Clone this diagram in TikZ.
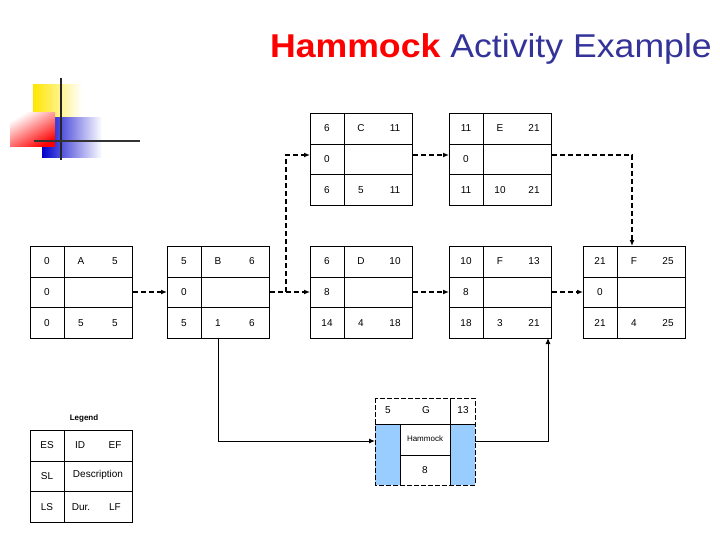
\documentclass[tikz,border=0pt]{standalone}
\usepackage{fontspec}
\setmainfont{Liberation Sans}
\usetikzlibrary{arrows.meta,calc}
\definecolor{navy}{RGB}{51,51,153}
\definecolor{hblue}{RGB}{153,204,255}
\tikzset{
  box/.style={draw,line width=0.8pt,minimum width=102pt,minimum height=92pt,inner sep=0pt,anchor=north west},
  t/.style={font=\fontsize{10}{10}\selectfont},
  dep/.style={dash pattern=on 5pt off 3pt,line width=1.2pt,-{Latex[length=6pt,width=5pt]}},
  ham/.style={line width=1pt,-{Latex[length=6pt,width=5pt]}}
}
\newcommand{\actbox}[3]{%
  \node[box] (#1) at (#2,#3) {};
  \draw[line width=0.8pt] ($(#1.north west)+(34,0)$) -- ($(#1.south west)+(34,0)$)
    ($(#1.north west)+(0,31)$) -- ($(#1.north east)+(0,31)$)
    ($(#1.north west)+(0,61)$) -- ($(#1.north east)+(0,61)$);
}
\newcommand{\lbl}[4]{\node[t] at ($(#1.north west)+(#2,#3)$) {#4};}
\newcommand{\rowtxt}[8]{%
 \lbl{#1}{17}{15}{#2}\lbl{#1}{51}{15}{#3}\lbl{#1}{85}{15}{#4}
 \lbl{#1}{17}{46}{#5}
 \lbl{#1}{17}{77}{#6}\lbl{#1}{51}{77}{#7}\lbl{#1}{85}{77}{#8}}
\begin{document}
\begin{tikzpicture}[x=1pt,y=-1pt]
\useasboundingbox (0,0) rectangle (720,540);
% title
\node[anchor=base east,font=\fontsize{33}{33}\selectfont,inner sep=0pt,xscale=1.08] (title) at (712,58)
 {\textcolor{red}{\textbf{Hammock}} \textcolor{navy}{Activity Example}};
% logo
\shade[left color=yellow!80!orange,right color=white] (33,85) rectangle (82,118);
\shade[left color=blue!80!black,right color=white] (42,118) rectangle (102,158);
\shade[left color=white,right color=red,shading angle=30] (10,113) rectangle (55,147);
\draw[line width=1.5pt,black!85] (61,78) -- (61,160);
\draw[line width=1.5pt,black!80] (34,141) -- (140,141);
% boxes
\actbox{A}{30}{246}\rowtxt{A}{0}{A}{5}{0}{0}{5}{5}
\actbox{B}{167}{246}\rowtxt{B}{5}{B}{6}{0}{5}{1}{6}
\actbox{D}{310}{246}\rowtxt{D}{6}{D}{10}{8}{14}{4}{18}
\actbox{F}{449}{246}\rowtxt{F}{10}{F}{13}{8}{18}{3}{21}
\actbox{G}{583}{246}\rowtxt{G}{21}{F}{25}{0}{21}{4}{25}
\actbox{C}{310}{113}\rowtxt{C}{6}{C}{11}{0}{6}{5}{11}
\actbox{E}{449}{113}\rowtxt{E}{11}{E}{21}{0}{11}{10}{21}
% legend
\node[font=\fontsize{8}{8}\selectfont\bfseries] (leg) at (84,418) {Legend};
\actbox{L}{30}{430}
\lbl{L}{17}{15}{ES}\lbl{L}{50}{15}{ID}\lbl{L}{85}{15}{EF}
\lbl{L}{17}{46}{SL}\lbl{L}{68}{45}{Description}
\lbl{L}{17}{77}{LS}\lbl{L}{51}{77}{Dur.}\lbl{L}{85}{77}{LF}
% hammock
\fill[hblue] (375,424) rectangle (400,485) (450,424) rectangle (475,485);
\node[minimum width=100pt,minimum height=87pt,inner sep=0pt,anchor=north west] (H) at (375,398) {};
\draw[line width=0.8pt] (375,424) -- (475,424) (450,398) -- (450,485) (400,424) -- (400,485) (400,455) -- (450,455);
\draw[dash pattern=on 5pt off 2pt,line width=1pt] (375,398) rectangle (475,485);
\node[t] at (388,410) {5}; \node[t] at (426,410) {G}; \node[t] at (463,410) {13};
\node[font=\fontsize{8}{8}\selectfont] at (425,439) {Hammock}; \node[t] at (425,470) {8};
% dependencies
\draw[dep] (A.east |- 0,292) -- (B.west |- 0,292);
\draw[dep] (B.east |- 0,292) -- (D.west |- 0,292);
\draw[dep] (286,292) -- (286,155) -- (C.west |- 0,155);
\draw[dep] (C.east |- 0,155) -- (E.west |- 0,155);
\draw[dep] (E.east |- 0,155) -- (632,155) -- (632,246);
\draw[dep] (D.east |- 0,292) -- (F.west |- 0,292);
\draw[dep] (F.east |- 0,292) -- (G.west |- 0,292);
\draw[ham] (218,338) -- (218,441) -- (H.west |- 0,441);
\draw[ham] (H.east |- 0,441) -- (548,441) -- (548,338);
\end{tikzpicture}
\end{document}
